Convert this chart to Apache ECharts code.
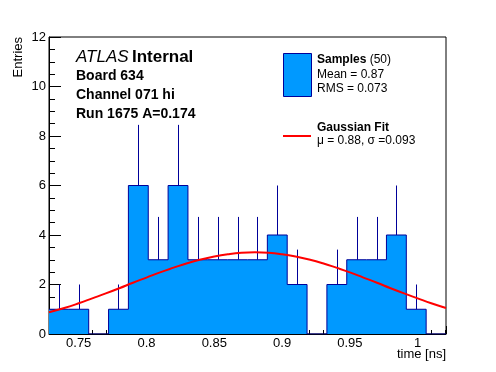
<!DOCTYPE html>
<html><head><meta charset="utf-8">
<script src="https://cdn.jsdelivr.net/npm/echarts@6/dist/echarts.min.js"></script>
<style>html,body{margin:0;padding:0;background:#fff}#c{width:496px;height:372px}</style>
</head><body><div id="c"></div>
<script>
// Histogram definition (20 bins)
const histLow = 0.7281;
const binWidth = 0.01464;
const counts = [1, 1, 0, 1, 6, 3, 6, 3, 3, 3, 3, 4, 2, 0, 2, 3, 3, 4, 1, 0];
const errors = [1, 1, 0, 1, 2.45, 1.73, 2.45, 1.73, 1.73, 1.73, 1.73, 2, 1.41, 0, 1.41, 1.73, 1.73, 2, 1, 0];
// Gaussian fit curve
const fitX = [0.7281, 0.74, 0.75, 0.76, 0.77, 0.78, 0.79, 0.80, 0.81, 0.82, 0.83, 0.84, 0.85, 0.86, 0.87, 0.88, 0.89, 0.90, 0.91, 0.92, 0.93, 0.94, 0.95, 0.96, 0.97, 0.98, 0.99, 1.00, 1.01, 1.0209];
const fitY = [0.88, 1.06, 1.24, 1.44, 1.64, 1.85, 2.07, 2.28, 2.49, 2.68, 2.86, 3.01, 3.13, 3.22, 3.28, 3.30, 3.28, 3.22, 3.13, 3.01, 2.86, 2.68, 2.49, 2.28, 2.07, 1.85, 1.64, 1.44, 1.24, 1.05];
const infoLines = ['Board 634', 'Channel 071 hi', 'Run 1675 A=0.174'];
const legendSamples = ['Samples', '(50)', 'Mean = 0.87', 'RMS = 0.073'];
const legendFit = ['Gaussian Fit', 'μ = 0.88, σ =0.093'];

const FONT = '"Liberation Sans", Arial, Helvetica, sans-serif';
const FILL = '#0099ff';
const EDGE = '#000099';
const nBins = counts.length;
const histHigh = histLow + nBins * binWidth;

const stepData = counts.map((c, i) => [histLow + i * binWidth, c]);
stepData.push([histHigh, counts[nBins - 1]]);
const errData = counts.map((c, i) => [histLow + (i + 0.5) * binWidth, c, c + errors[i]]).filter(d => d[2] > d[1]);
const fitData = fitX.map((x, i) => [x, fitY[i]]);

const chart = echarts.init(document.getElementById('c'), null, {renderer: 'canvas'});
chart.setOption({
  animation: false,
  backgroundColor: '#fff',
  grid: {left: 49, right: 50, top: 37, bottom: 38, show: true, borderColor: '#000', borderWidth: 1, backgroundColor: 'transparent'},
  xAxis: {
    type: 'value', min: histLow, max: histHigh, splitNumber: 6,
    axisLine: {lineStyle: {color: '#000', width: 1}},
    axisTick: {inside: true, length: 8, lineStyle: {color: '#000'}},
    minorTick: {show: true, splitNumber: 5, length: 4, lineStyle: {color: '#000'}},
    splitLine: {show: false},
    axisLabel: {showMinLabel: false, showMaxLabel: false, color: '#000', fontSize: 13, fontFamily: FONT, margin: 3}
  },
  yAxis: {
    type: 'value', min: 0, max: 12, interval: 2,
    axisLine: {show: true, lineStyle: {color: '#000', width: 1}},
    axisTick: {show: true, inside: true, length: 12, lineStyle: {color: '#000'}},
    minorTick: {show: true, splitNumber: 4, length: 6, lineStyle: {color: '#000'}},
    splitLine: {show: false},
    axisLabel: {color: '#000', fontSize: 13, fontFamily: FONT, margin: 3}
  },
  series: [
    {
      type: 'line', data: stepData, step: 'end', symbol: 'none',
      lineStyle: {color: EDGE, width: 1}, areaStyle: {color: FILL, opacity: 1}, z: 2
    },
    {
      type: 'custom', data: errData, z: 3,
      renderItem: (params, api) => {
        const p1 = api.coord([api.value(0), api.value(1)]);
        const p2 = api.coord([api.value(0), api.value(2)]);
        const x = Math.round(p1[0]) + 0.5;
        return {type: 'line', shape: {x1: x, y1: p1[1], x2: x, y2: p2[1]}, style: {stroke: EDGE, lineWidth: 1}};
      }
    },
    {
      type: 'line', data: fitData, smooth: true, symbol: 'none',
      lineStyle: {color: '#ff0000', width: 2}, z: 4
    }
  ],
  graphic: [
    {type: 'text', left: 76, top: 49, style: {
      text: '{a|ATLAS} {b|Internal}',
      rich: {a: {fontStyle: 'italic', fontSize: 17, fontFamily: FONT, fill: '#000'}, b: {fontWeight: 'bold', fontSize: 17, fontFamily: FONT, fill: '#000'}}
    }},
    {type: 'text', left: 76, top: 69, style: {text: infoLines[0], font: 'bold 14px ' + FONT, fill: '#000'}},
    {type: 'text', left: 76, top: 88, style: {text: infoLines[1], font: 'bold 14px ' + FONT, fill: '#000'}},
    {type: 'text', left: 76, top: 107, style: {text: infoLines[2], font: 'bold 14px ' + FONT, fill: '#000'}},
    {type: 'rect', shape: {x: 283.5, y: 53.5, width: 28, height: 43}, style: {fill: FILL, stroke: EDGE, lineWidth: 1}},
    {type: 'text', left: 317, top: 54, style: {
      text: '{b|' + legendSamples[0] + '} {r|' + legendSamples[1] + '}',
      rich: {b: {fontWeight: 'bold', fontSize: 12, fontFamily: FONT, fill: '#000'}, r: {fontSize: 12, fontFamily: FONT, fill: '#000'}}
    }},
    {type: 'text', left: 317, top: 69, style: {text: legendSamples[2], font: '12px ' + FONT, fill: '#000'}},
    {type: 'text', left: 317, top: 83, style: {text: legendSamples[3], font: '12px ' + FONT, fill: '#000'}},
    {type: 'line', shape: {x1: 283, y1: 136, x2: 311, y2: 136}, style: {stroke: '#ff0000', lineWidth: 2}},
    {type: 'text', left: 317, top: 122, style: {text: legendFit[0], font: 'bold 12px ' + FONT, fill: '#000'}},
    {type: 'text', left: 317, top: 135, style: {text: legendFit[1], font: '12px ' + FONT, fill: '#000'}},
    {type: 'text', right: 50, top: 348, style: {text: 'time [ns]', font: '13px ' + FONT, fill: '#000'}},
    {type: 'text', x: 12, y: 37, rotation: Math.PI / 2, style: {text: 'Entries', font: '13px ' + FONT, fill: '#000', textAlign: 'right', textVerticalAlign: 'top'}}
  ]
});
</script>
</body></html>
